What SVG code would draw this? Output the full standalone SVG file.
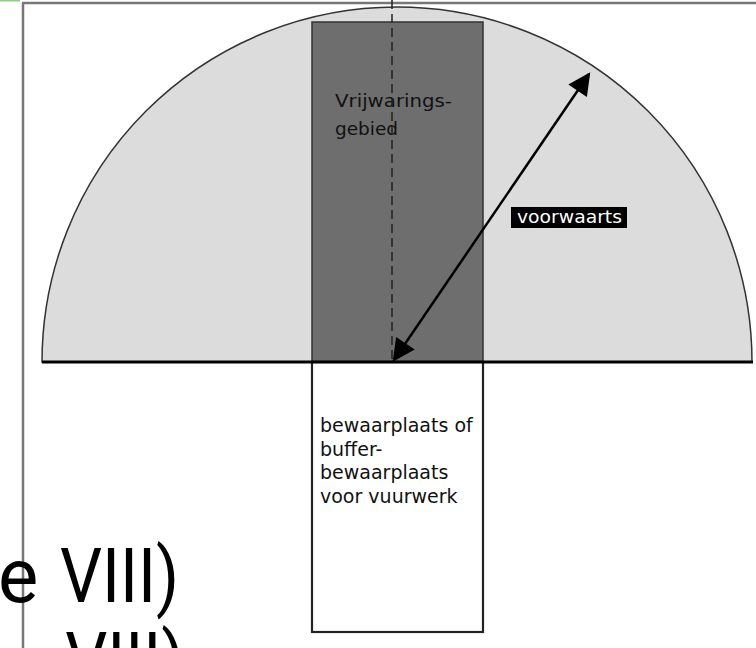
<svg xmlns="http://www.w3.org/2000/svg" width="756" height="648" viewBox="0 0 756 648">
<style>
.lbl{font-family:"DejaVu Sans",Verdana,sans-serif;font-size:19px;fill:#111}
.big{font-family:Roboto,"Liberation Sans",sans-serif;font-size:76px;fill:#000}
</style>
<defs>
<marker id="ah" viewBox="0 0 10 10" refX="9" refY="5" markerWidth="10" markerHeight="9" orient="auto-start-reverse" markerUnits="strokeWidth">
<path d="M0,0 L10,5 L0,10 z" fill="#000"/>
</marker>
<clipPath id="semi"><path d="M42,362 A355,355 0 0 1 752,362 Z"/></clipPath>
</defs>
<rect width="756" height="648" fill="#fff"/>
<line x1="0" y1="0.5" x2="20" y2="0.5" stroke="#8fcf80" stroke-width="2"/>
<line x1="23" y1="3" x2="23" y2="648" stroke="#777" stroke-width="2.5"/>
<line x1="22" y1="3" x2="756" y2="3" stroke="#777" stroke-width="2.5"/>
<g id="zone">
<path d="M42,362 A355,355 0 0 1 752,362 Z" fill="#dcdcdc" stroke="#333" stroke-width="1.5"/>
</g>
<g id="vrijwaring">
<rect x="312" y="22" width="171" height="340" fill="#6e6e6e" stroke="#333" stroke-width="1.5" clip-path="url(#semi)"/>
<text class="lbl" x="335" y="107" style="font-size:18px" textLength="117" lengthAdjust="spacingAndGlyphs">Vrijwarings-</text>
<text class="lbl" x="335" y="135" style="font-size:18px" textLength="63" lengthAdjust="spacingAndGlyphs">gebied</text>
</g>
<g id="bewaarplaats">
<rect x="312" y="362" width="171" height="270" fill="#fff" stroke="#222" stroke-width="2.2"/>
<text class="lbl" x="320" y="432">bewaarplaats of</text>
<text class="lbl" x="320" y="455.5">buffer-</text>
<text class="lbl" x="320" y="479">bewaarplaats</text>
<text class="lbl" x="320" y="502.5">voor vuurwerk</text>
</g>
<g id="connectors">
<line x1="392" y1="0" x2="392" y2="362" stroke="#222" stroke-width="1.5" stroke-dasharray="9,5"/>
<line x1="42" y1="362" x2="753" y2="362" stroke="#000" stroke-width="3"/>
<line x1="394" y1="360" x2="589" y2="74" stroke="#000" stroke-width="2.5" marker-start="url(#ah)" marker-end="url(#ah)"/>
</g>
<g id="voorwaarts">
<rect x="511" y="207" width="116" height="21" fill="#000"/>
<text class="lbl" x="517" y="223" style="fill:#fff;font-size:18px" textLength="105" lengthAdjust="spacingAndGlyphs">voorwaarts</text>
</g>
<text class="big" x="-2" y="602">e</text>
<text class="big" transform="translate(0,602) scale(0.87,1)" x="69">VIII)</text>
<text class="big" transform="translate(0,686) scale(0.87,1)" x="75">VIII)</text>
</svg>
